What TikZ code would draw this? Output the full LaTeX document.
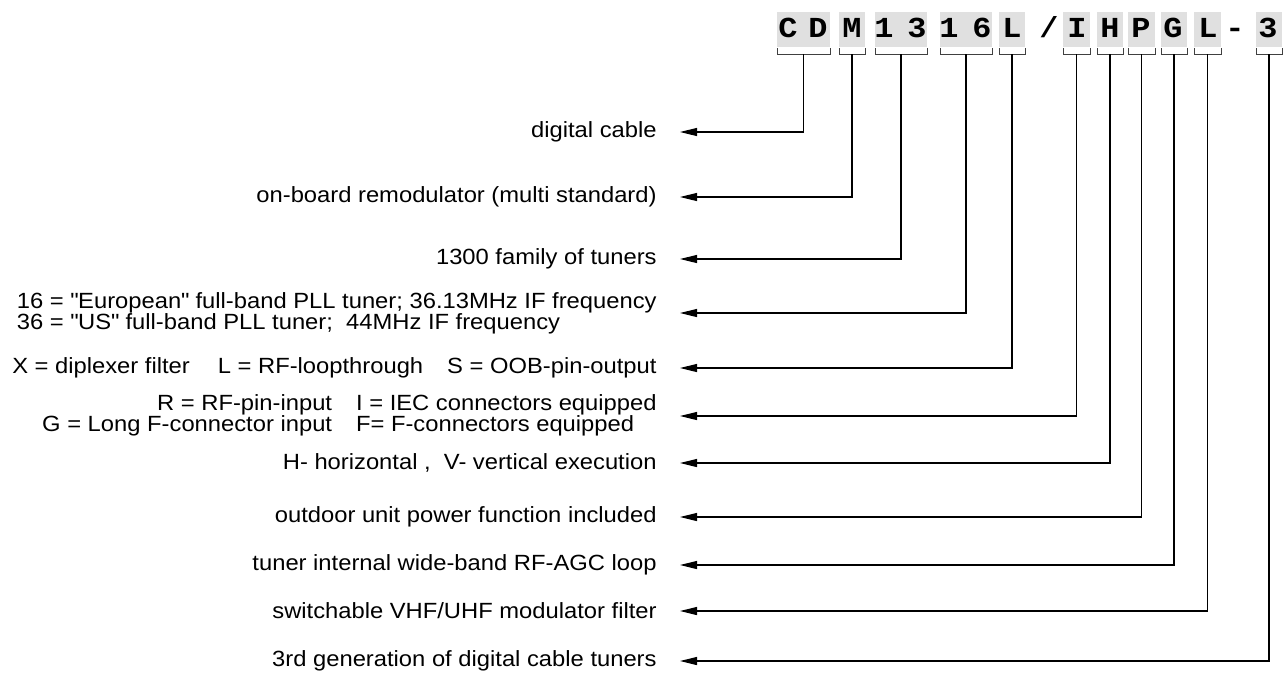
\documentclass[tikz,border=0pt]{standalone}
\usepackage{fontspec}
\setmainfont{Liberation Sans}[FakeStretch=1.08]
\newfontfamily\codefont{Liberation Mono}[FakeStretch=1.1]
\usetikzlibrary{arrows.meta}

\begin{document}
\begin{tikzpicture}[x=0.5pt,y=-0.5pt,
  lbl/.style={anchor=east,inner sep=0pt,font=\fontsize{11}{9.2}\selectfont},
  lead/.style={line width=0.6pt,-{Triangle[length=8.5pt,width=4pt]},shorten >=11.5pt},
  codebox/.style={fill=black!12,draw=none},
  brace/.style={line width=0.5pt,black!75},
  codechar/.style={font=\codefont\bfseries\fontsize{14.5}{14.5}\selectfont,inner sep=0pt,anchor=base}]
\useasboundingbox (0,0) rectangle (1283,675);

% type designation
\foreach \l/\r [count=\i] in {777/830,839/865,875/927,940/992,999/1025,1063/1090,1097/1123,1128/1155,1161/1187,1194/1221,1256/1282}{
  \fill[codebox] (\l,12) rectangle (\r,47);
  \draw[brace] (\l,48) -- (\l,54) -- (\r,54) -- (\r,48);
  \coordinate (b\i) at ({(\l+\r)/2},54);
}
\foreach \x/\c [count=\j] in {788/C,818/D,852/M,884/1,917/3,949/1,982/6,1012/L,1049/{/},1077/I,1110/H,1141/P,1173/G,1208/L,1235/-,1268/3}
  \node[codechar] (c\j) at (\x,37) {\c};

% meanings
\node[lbl] (l1) at (657,132) {digital cable};
\node[lbl] (l2) at (657,197) {on-board remodulator (multi standard)};
\node[lbl] (l3) at (657,259) {1300 family of tuners};
\node[lbl,align=left] (l4) at (657,313) {16 = \textquotedbl European\textquotedbl{} full-band PLL tuner; 36.13MHz IF frequency\\[-0.8pt]36 = \textquotedbl US\textquotedbl{} full-band PLL tuner;\ \ 44MHz IF frequency};
\node[lbl] (l5) at (657,368) {X = diplexer filter\hspace{14pt}L = RF-loopthrough\hspace{12pt}S = OOB-pin-output};
\node[lbl] (l6) at (657,416) {\begin{tabular}{@{}r@{\hspace{12pt}}l@{}}
  R = RF-pin-input & I = IEC connectors equipped\\
  G = Long F-connector input & F= F-connectors equipped
  \end{tabular}};
\node[lbl] (l7) at (657,463) {H- horizontal ,\ \ V- vertical execution};
\node[lbl] (l8) at (657,517) {outdoor unit power function included};
\node[lbl] (l9) at (657,565) {tuner internal wide-band RF-AGC loop};
\node[lbl] (l10) at (657,611) {switchable VHF/UHF modulator filter};
\node[lbl] (l11) at (657,661) {3rd generation of digital cable tuners};

\foreach \i in {1,...,11}
  \draw[lead] (b\i) |- (l\i.east);
\end{tikzpicture}
\end{document}
